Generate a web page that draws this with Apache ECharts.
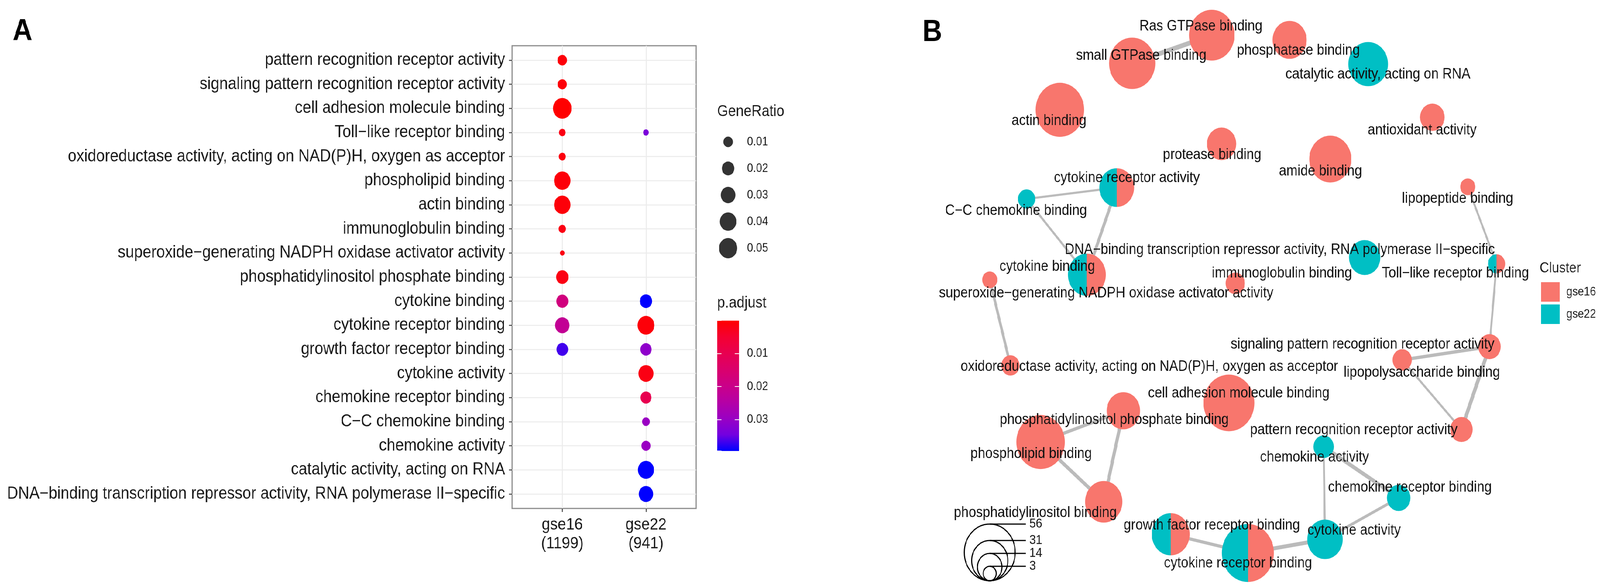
<!DOCTYPE html>
<html><head><meta charset="utf-8">
<script src="https://cdn.jsdelivr.net/npm/echarts@6/dist/echarts.min.js"></script>
<style>html,body{margin:0;padding:0;background:#fff;overflow:hidden}#c{width:4562px;height:1502px;transform-origin:0 0}</style>
</head><body><div id="c"></div>
<script>
// ---------------- Panel A data ----------------
const terms = [
  'pattern recognition receptor activity',
  'signaling pattern recognition receptor activity',
  'cell adhesion molecule binding',
  'Toll\u2212like receptor binding',
  'oxidoreductase activity, acting on NAD(P)H, oxygen as acceptor',
  'phospholipid binding',
  'actin binding',
  'immunoglobulin binding',
  'superoxide\u2212generating NADPH oxidase activator activity',
  'phosphatidylinositol phosphate binding',
  'cytokine binding',
  'cytokine receptor binding',
  'growth factor receptor binding',
  'cytokine activity',
  'chemokine receptor binding',
  'C\u2212C chemokine binding',
  'chemokine activity',
  'catalytic activity, acting on RNA',
  'DNA\u2212binding transcription repressor activity, RNA polymerase II\u2212specific'
];
const clusters = ['gse16', 'gse22'];
const clusterSizes = [1199, 941];
const geneRatioGse16 = [0.0100, 0.0090, 0.0523, 0.0037, 0.0043, 0.0396, 0.0396, 0.0049, 0.0010, 0.0195, 0.0181, 0.0287, 0.0168, null, null, null, null, null, null];
const pAdjustGse16   = [0.0010, 0.0010, 0.00005, 0.0020, 0.0015, 0.0010, 0.0010, 0.0020, 0.0020, 0.0020, 0.0178, 0.0217, 0.0367, null, null, null, null, null, null];
const geneRatioGse22 = [null, null, null, 0.0021, null, null, null, null, null, null, 0.0195, 0.0416, 0.0156, 0.0321, 0.0144, 0.0057, 0.0090, 0.0377, 0.0287];
const pAdjustGse22   = [null, null, null, 0.0336, null, null, null, null, null, null, 0.0395, 0.0010, 0.0310, 0.0020, 0.0099, 0.0296, 0.0296, 0.0395, 0.0395];
const ratioBreaks = [0.01, 0.02, 0.03, 0.04, 0.05];

// ---------------- Panel B data (network layout units) ----------------
const nodeNames = [
  'Ras GTPase binding', 'small GTPase binding', 'phosphatase binding', 'catalytic activity, acting on RNA',
  'actin binding', 'antioxidant activity', 'protease binding', 'amide binding',
  'cytokine receptor activity', 'C\u2212C chemokine binding', 'lipopeptide binding',
  'DNA\u2212binding transcription repressor activity, RNA polymerase II\u2212specific',
  'Toll\u2212like receptor binding', 'cytokine binding',
  'superoxide\u2212generating NADPH oxidase activator activity', 'immunoglobulin binding',
  'signaling pattern recognition receptor activity', 'lipopolysaccharide binding',
  'oxidoreductase activity, acting on NAD(P)H, oxygen as acceptor', 'cell adhesion molecule binding',
  'phosphatidylinositol phosphate binding', 'pattern recognition receptor activity', 'phospholipid binding',
  'chemokine activity', 'chemokine receptor binding', 'phosphatidylinositol binding',
  'growth factor receptor binding', 'cytokine activity', 'cytokine receptor binding'
];
const nodeX = [855, 628, 1077, 1301, 422, 1484, 883, 1193, 584, 327, 1585, 1291, 1667, 499, 222, 922, 1647, 1398, 281, 904, 603, 1567, 367, 1174, 1388, 547, 738, 1178, 958];
const nodeY = [90, 162, 102, 164, 281, 300, 368, 407, 480, 509, 478, 659, 675, 703, 716, 725, 887, 921, 935, 1031, 1051, 1099, 1131, 1143, 1274, 1284, 1367, 1380, 1415];
const nodeCount = [47, 48, 28, 37, 52, 14, 21, 41, 29, 7, 5, 24, 7, 34, 5, 9, 12, 9, 8, 56, 27, 12, 52, 10, 13, 33, 34, 30, 58];
const inGse16 = [1, 1, 1, 0, 1, 1, 1, 1, 1, 0, 1, 0, 1, 1, 1, 1, 1, 1, 1, 1, 1, 1, 1, 0, 0, 1, 1, 0, 1];
const inGse22 = [0, 0, 0, 1, 0, 0, 0, 0, 1, 1, 0, 1, 1, 1, 0, 0, 0, 0, 0, 0, 0, 0, 0, 1, 1, 0, 1, 1, 1];
const labelX = [824, 654, 1102, 1329, 391, 1455, 856, 1165, 613, 297, 1556, 1049, 1550, 386, 554, 1055, 1285, 1454, 677, 932, 577, 1260, 340, 1148, 1420, 352, 855, 1261, 930];
const labelY = [68, 143, 130, 191, 310, 334, 397, 439, 456, 540, 509, 640, 700, 683, 751, 700, 882, 954, 939, 1007, 1075, 1101, 1162, 1171, 1248, 1313, 1345, 1358, 1442];
const edgeSource = ['Ras GTPase binding', 'cytokine receptor activity', 'cytokine receptor activity', 'C\u2212C chemokine binding',
  'superoxide\u2212generating NADPH oxidase activator activity', 'lipopeptide binding', 'Toll\u2212like receptor binding',
  'signaling pattern recognition receptor activity', 'signaling pattern recognition receptor activity', 'lipopolysaccharide binding',
  'phosphatidylinositol phosphate binding', 'phospholipid binding', 'phosphatidylinositol phosphate binding',
  'chemokine activity', 'chemokine activity', 'chemokine receptor binding', 'cytokine activity', 'cytokine receptor binding'];
const edgeTarget = ['small GTPase binding', 'C\u2212C chemokine binding', 'cytokine binding', 'cytokine binding',
  'oxidoreductase activity, acting on NAD(P)H, oxygen as acceptor', 'Toll\u2212like receptor binding', 'signaling pattern recognition receptor activity',
  'lipopolysaccharide binding', 'pattern recognition receptor activity', 'pattern recognition receptor activity',
  'phospholipid binding', 'phosphatidylinositol binding', 'phosphatidylinositol binding',
  'chemokine receptor binding', 'cytokine activity', 'cytokine activity', 'cytokine receptor binding', 'growth factor receptor binding'];
const edgeSimilarity = [1.0, 0.3, 0.6, 0.3, 0.5, 0.3, 0.3, 0.6, 0.8, 0.3, 0.6, 0.7, 0.7, 0.8, 0.3, 0.5, 0.8, 0.6];
const sizeLegendCounts = [56, 31, 14, 3];

// ---------------- fit the 4562x1502 design to the viewport ----------------
(function () {
  const w = window.innerWidth || 4562, h = window.innerHeight || 1502;
  let sx = w / 4562, sy = h / 1502;
  if (!isFinite(sx) || sx <= 0) sx = 1;
  if (!isFinite(sy) || sy <= 0) sy = 1;
  if (Math.abs(sx - 1) > 0.002 || Math.abs(sy - 1) > 0.002) document.getElementById('c').style.transform = 'scale(' + sx + ',' + sy + ')';
})();

// ---------------- scales & styles ----------------
const FONT = '"Liberation Sans", Arial, Helvetica, sans-serif';
const TXT = '#1a1a1a';
const C16 = '#F8766D', C22 = '#00BFC4';
const gradColors = ['#FF0000', '#F40031', '#E80050', '#DA006C', '#CA0089', '#B500A5', '#9A00C3', '#7300E0', '#0000FF'];
function ratioToDiameter(r) { return 6.8 + 202 * Math.sqrt(r); }
const sizeRefCounts = [3, 14, 31, 56], sizeRefDiam = [37, 70, 103, 145];
function countToDiameter(n) {
  let k = 0;
  while (k < sizeRefCounts.length - 2 && n > sizeRefCounts[k + 1]) k++;
  const t = (n - sizeRefCounts[k]) / (sizeRefCounts[k + 1] - sizeRefCounts[k]);
  return sizeRefDiam[k] + t * (sizeRefDiam[k + 1] - sizeRefDiam[k]);
}
function simToWidth(s) { return 3 + 9 * s; }

const dotData = [];
[[geneRatioGse16, pAdjustGse16], [geneRatioGse22, pAdjustGse22]].forEach(([ratios, padj], c) => {
  ratios.forEach((r, i) => { if (r != null) dotData.push([c + 1, i, r, padj[i]]); });
});
const allP = pAdjustGse16.concat(pAdjustGse22).filter(v => v != null);
const pMin = Math.min.apply(null, allP), pMax = Math.max.apply(null, allP);
const termIdx = terms.map((_, i) => i);

const nodeData = nodeNames.map((n, i) => [nodeX[i], nodeY[i], nodeCount[i], inGse16[i], inGse22[i]]);
const edgeData = edgeSource.map((s, k) => {
  const a = nodeNames.indexOf(s), b = nodeNames.indexOf(edgeTarget[k]);
  return { coords: [[nodeX[a], nodeY[a]], [nodeX[b], nodeY[b]]], lineStyle: { width: simToWidth(edgeSimilarity[k]) } };
});

function pieRender(which) {
  return function (params, api) {
    const a = api.value(3), b = api.value(4);
    const share = which === 0 ? a : b;
    if (!share) return null;
    const tot = a + b;
    const c = api.coord([api.value(0), api.value(1)]);
    const r = countToDiameter(api.value(2)) / 2;
    const start = -Math.PI / 2 + (which === 0 ? 0 : 2 * Math.PI * a / tot);
    const end = start + 2 * Math.PI * share / tot;
    return { type: 'sector', shape: { cx: c[0], cy: c[1], r0: 0, r: r, startAngle: start, endAngle: end, clockwise: true },
      style: { fill: which === 0 ? C16 : C22 } };
  };
}

// size legend graphic (panel B)
const legCx = 2822, legBottom = 1486, legLineEnd = 2925;
const sizeLegendGraphic = [];
sizeLegendCounts.forEach(n => {
  const r = countToDiameter(n) / 2;
  sizeLegendGraphic.push({ type: 'circle', shape: { cx: legCx, cy: legBottom - r, r: r }, style: { fill: 'none', stroke: '#000', lineWidth: 3 }, silent: true });
  sizeLegendGraphic.push({ type: 'line', shape: { x1: legCx, y1: legBottom - 2 * r, x2: legLineEnd, y2: legBottom - 2 * r }, style: { stroke: '#000', lineWidth: 3 }, silent: true });
  sizeLegendGraphic.push({ type: 'text', x: legLineEnd + 10, y: legBottom - 2 * r, style: { text: String(n), fontSize: 33, fontFamily: FONT, fill: TXT, verticalAlign: 'middle', align: 'left' }, silent: true });
});

const noLine = { show: false, onZero: false };
const chart = echarts.init(document.getElementById('c'));
chart.setOption({
  backgroundColor: '#fff',
  animation: false,
  title: [
    { text: 'A', left: 36, top: 42, padding: 0, textStyle: { fontSize: 78, fontWeight: 'bold', fontFamily: FONT, color: '#000' } },
    { text: 'B', left: 2630, top: 44, padding: 0, textStyle: { fontSize: 78, fontWeight: 'bold', fontFamily: FONT, color: '#000' } },
    { text: 'GeneRatio', left: 2045, top: 266, padding: 0, textStyle: { fontSize: 40, fontWeight: 'normal', fontFamily: FONT, color: TXT } },
    { text: 'p.adjust', left: 2045, top: 756, padding: 0, textStyle: { fontSize: 40, fontWeight: 'normal', fontFamily: FONT, color: TXT } },
    { text: 'Cluster', left: 4390, top: 668, padding: 0, textStyle: { fontSize: 37, fontWeight: 'normal', fontFamily: FONT, color: TXT } }
  ],
  legend: {
    data: ['gse16', 'gse22'], orient: 'vertical', left: 4394, top: 722, padding: 0,
    itemWidth: 53, itemHeight: 50, itemGap: 7, icon: 'rect',
    textStyle: { fontSize: 31, color: TXT, fontFamily: FONT, padding: [0, 0, 0, 14] }
  },
  graphic: sizeLegendGraphic,
  grid: [
    { left: 1460, top: 117, width: 525, height: 1184, show: true, borderColor: '#8c8c8c', borderWidth: 3, backgroundColor: '#fff' },
    { left: 2040, top: 329, width: 72, height: 340 },
    { left: 2045, top: 820, width: 62, height: 334 },
    { left: 2600, top: 0, width: 1962, height: 1502 }
  ],
  visualMap: [{
    show: false, type: 'continuous', seriesIndex: 0, dimension: 3, min: pMin, max: pMax,
    inRange: { color: gradColors }
  }],
  xAxis: [
    { gridIndex: 0, type: 'value', min: 0.4, max: 2.6, position: 'bottom',
      axisLine: noLine,
      axisTick: { show: true, customValues: [1, 2], length: 9, lineStyle: { color: '#444', width: 2.5 } },
      axisLabel: { customValues: [1, 2], formatter: v => clusters[Math.round(v) - 1] + '\n(' + clusterSizes[Math.round(v) - 1] + ')',
        fontSize: 43, lineHeight: 48, color: TXT, fontFamily: FONT, margin: 18 },
      splitLine: { show: true, lineStyle: { color: '#EBEBEB', width: 2.5 } } },
    { gridIndex: 1, type: 'value', min: 0, max: 1, show: false, axisLine: noLine },
    { gridIndex: 2, type: 'value', min: 0, max: 1, show: false, axisLine: noLine },
    { gridIndex: 3, type: 'value', min: 0, max: 1962, show: false, axisLine: noLine }
  ],
  yAxis: [
    { gridIndex: 0, type: 'value', inverse: true, min: -0.6, max: 18.6, position: 'left',
      axisLine: noLine,
      axisTick: { show: true, customValues: termIdx, length: 9, lineStyle: { color: '#444', width: 2.5 } },
      axisLabel: { customValues: termIdx, formatter: v => terms[Math.round(v)], fontSize: 44, color: TXT, fontFamily: FONT, margin: 20 },
      splitLine: { show: true, lineStyle: { color: '#EBEBEB', width: 2.5 } } },
    { gridIndex: 1, type: 'category', inverse: true, position: 'right', data: ratioBreaks.map(b => b.toFixed(2)),
      axisLine: noLine, axisTick: { show: false },
      axisLabel: { fontSize: 31, color: TXT, fontFamily: FONT, margin: 18 } },
    { gridIndex: 2, type: 'value', inverse: true, position: 'right', min: 0, max: pMax, interval: 0.01, z: 5,
      axisLine: noLine,
      axisTick: { show: true, inside: true, length: 12, lineStyle: { color: '#fff', width: 2 } },
      axisLabel: { showMinLabel: false, showMaxLabel: false, formatter: v => v.toFixed(2), fontSize: 31, color: TXT, fontFamily: FONT, margin: 23 },
      splitLine: { show: false } },
    { gridIndex: 2, type: 'value', inverse: true, position: 'left', min: 0, max: pMax, interval: 0.01, z: 5,
      axisLine: noLine,
      axisTick: { show: true, inside: true, length: 12, lineStyle: { color: '#fff', width: 2 } },
      axisLabel: { show: false }, splitLine: { show: false } },
    { gridIndex: 3, type: 'value', inverse: true, min: 0, max: 1502, show: false, axisLine: noLine }
  ],
  series: [
    { type: 'scatter', xAxisIndex: 0, yAxisIndex: 0, data: dotData, symbolSize: v => ratioToDiameter(v[2]), itemStyle: { opacity: 1 }, silent: true, z: 3 },
    { type: 'scatter', xAxisIndex: 1, yAxisIndex: 1, data: ratioBreaks.map((b, i) => [0.5, i, b]), symbolSize: v => ratioToDiameter(v[2]), itemStyle: { color: '#000' }, silent: true },
    { type: 'custom', xAxisIndex: 2, yAxisIndex: 2, data: [[0.5, pMin]], silent: true, z: 1,
      renderItem: function (params, api) {
        const p0 = api.coord([0, pMin]), p1 = api.coord([1, pMax]);
        return { type: 'rect', shape: { x: p0[0], y: p0[1], width: p1[0] - p0[0], height: p1[1] - p0[1] },
          style: { fill: new echarts.graphic.LinearGradient(0, 0, 0, 1, gradColors.map((c, i) => ({ offset: i / (gradColors.length - 1), color: c }))) } };
      } },
    { type: 'lines', coordinateSystem: 'cartesian2d', xAxisIndex: 3, yAxisIndex: 4, data: edgeData, silent: true, z: 2,
      lineStyle: { color: '#BBBBBB', opacity: 1 } },
    { name: 'gse16', type: 'custom', xAxisIndex: 3, yAxisIndex: 4, data: nodeData, renderItem: pieRender(0), itemStyle: { color: C16 }, silent: true, z: 3 },
    { name: 'gse22', type: 'custom', xAxisIndex: 3, yAxisIndex: 4, data: nodeData, renderItem: pieRender(1), itemStyle: { color: C22 }, silent: true, z: 3 },
    { type: 'custom', xAxisIndex: 3, yAxisIndex: 4, data: nodeNames.map((n, i) => [labelX[i], labelY[i], i]), silent: true, z: 6,
      renderItem: function (params, api) {
        const c = api.coord([api.value(0), api.value(1)]);
        return { type: 'text', x: c[0], y: c[1], style: { text: nodeNames[params.dataIndex], fontSize: 38, fontFamily: FONT, fill: '#111', align: 'center', verticalAlign: 'middle' } };
      } }
  ]
});
</script></body></html>
